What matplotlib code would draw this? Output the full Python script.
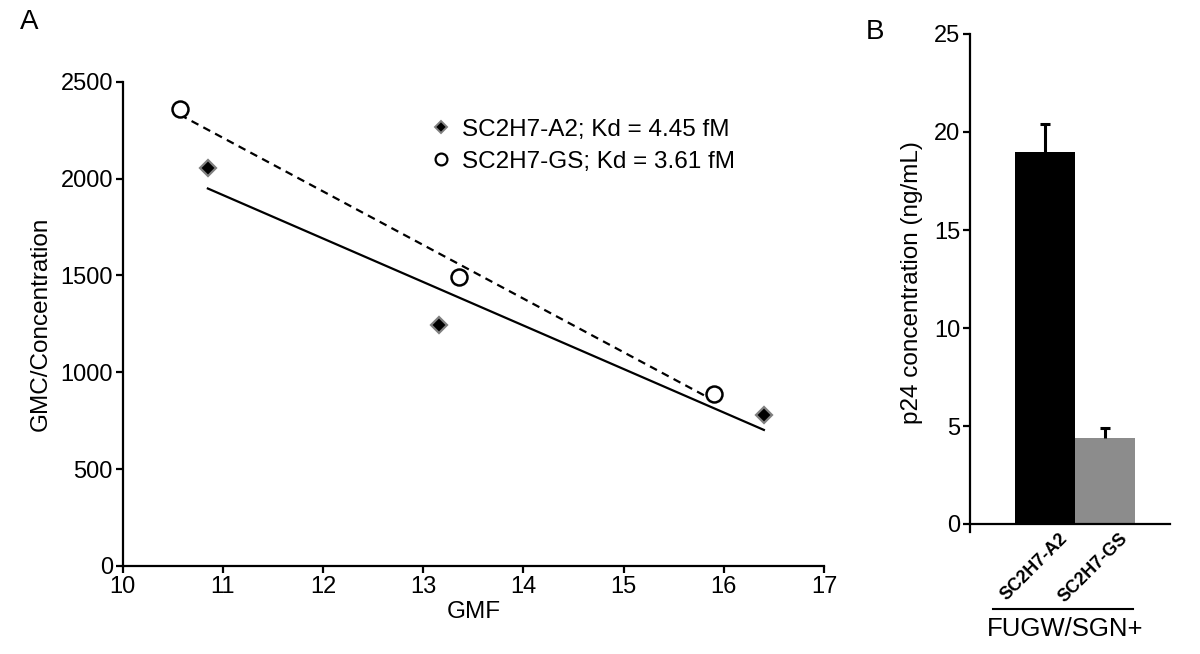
import numpy as np
import matplotlib
matplotlib.use("Agg")
import matplotlib.pyplot as plt
from matplotlib.lines import Line2D
from matplotlib.transforms import ScaledTranslation

plt.rcParams['font.family'] = ['Liberation Sans', 'DejaVu Sans']

# ---- Panel A data ----
a2_gmf = [10.85, 13.16, 16.40]
a2_ratio = [2056, 1246, 779]
gs_gmf = [10.57, 13.36, 15.90]
gs_ratio = [2361, 1491, 889]
a2_label = "SC2H7-A2; Kd = 4.45 fM"
gs_label = "SC2H7-GS; Kd = 3.61 fM"
xticks_a = [10, 11, 12, 13, 14, 15, 16, 17]
yticks_a = [0, 500, 1000, 1500, 2000, 2500]

# ---- Panel B data ----
bar_names = ["SC2H7-A2", "SC2H7-GS"]
bar_values = [19.0, 4.4]
bar_err_up = [1.4, 0.48]
bar_colors = ["#000000", "#8c8c8c"]
yticks_b = [0, 5, 10, 15, 20, 25]
group_label = "FUGW/SGN+"

W, H = 1200, 654
fig = plt.figure(figsize=(W / 100, H / 100), dpi=100)

FS = 17.5
TS = 17

# ---------------- Panel A ----------------
axA = fig.add_axes([122.7 / W, 1 - 566 / H, (824 - 122.7) / W, (566 - 81.7) / H])
axA.set_xlim(10, 17)
axA.set_ylim(0, 2500)

for xs, ys, ls in [(a2_gmf, a2_ratio, '-'), (gs_gmf, gs_ratio, (0, (3.5, 2.5)))]:
    k, b = np.polyfit(xs, ys, 1)
    xx = np.array([min(xs), max(xs)])
    axA.plot(xx, k * xx + b, color='black', lw=1.6, linestyle=ls, zorder=2)

axA.plot(a2_gmf, a2_ratio, linestyle='none', marker='D', markersize=8,
         markerfacecolor='black', markeredgecolor='#808080', markeredgewidth=1.6, zorder=3)
axA.plot(gs_gmf, gs_ratio, linestyle='none', marker='o', markersize=11.5,
         markerfacecolor='white', markeredgecolor='black', markeredgewidth=1.8, zorder=3)

h1 = Line2D([], [], linestyle='none', marker='D', markersize=6.5, markerfacecolor='black',
            markeredgecolor='#808080', markeredgewidth=1.4)
h2 = Line2D([], [], linestyle='none', marker='o', markersize=8.5, markerfacecolor='white',
            markeredgecolor='black', markeredgewidth=1.6)
axA.legend([h1, h2], [a2_label, gs_label], loc='upper left', bbox_to_anchor=(0.44, 0.924),
           frameon=False, fontsize=FS, handlelength=0.8, handletextpad=0.45,
           labelspacing=0.42, borderpad=0, borderaxespad=0)

axA.set_xticks(xticks_a)
axA.set_yticks(yticks_a)
for s in ['top', 'right']:
    axA.spines[s].set_visible(False)
for s in ['left', 'bottom']:
    axA.spines[s].set_linewidth(1.6)
axA.tick_params(direction='out', length=5, width=1.6, labelsize=TS, pad=2)
axA.set_xlabel("GMF", fontsize=FS, labelpad=2)
axA.set_ylabel("GMC/Concentration", fontsize=FS, labelpad=6)

fig.text(20 / W, 1 - 22 / H, "A", fontsize=20, ha='left', va='center')

# ---------------- Panel B ----------------
y0_px = 524
px_per_unit = (524 - 34) / 25
bottom_px = y0_px + 0.4 * px_per_unit
axB = fig.add_axes([970 / W, 1 - bottom_px / H, 200 / W, (bottom_px - 34) / H])
axB.set_ylim(-0.4, 25)
axB.set_xlim(-1.25, 2.0833)
xpos = np.arange(len(bar_names))
vals = np.array(bar_values)
errs = np.array(bar_err_up)
axB.bar(xpos, vals, width=1.0, color=bar_colors, edgecolor='none', zorder=2)
axB.vlines(xpos, vals, vals + errs, color='black', lw=2.2, zorder=3)
axB.hlines(vals + errs, xpos - 0.09, xpos + 0.09, color='black', lw=2.2, zorder=3)

for s in ['top', 'right']:
    axB.spines[s].set_visible(False)
axB.spines['bottom'].set_position(('data', 0))
for s in ['left', 'bottom']:
    axB.spines[s].set_linewidth(1.6)
axB.set_yticks(yticks_b)
axB.tick_params(axis='y', direction='out', length=5, width=1.6, labelsize=TS, pad=2)
axB.set_xticks([])
axB.set_ylabel("p24 concentration (ng/mL)", fontsize=FS, labelpad=8)

for i, name in enumerate(bar_names):
    tr = axB.transData + ScaledTranslation(0.14, -0.06, fig.dpi_scale_trans)
    axB.text(xpos[i], 0, name, transform=tr, rotation=45, ha='right', va='top',
             rotation_mode='anchor', fontsize=13, fontweight='bold')

axB.add_line(Line2D([0.115, 0.815], [-0.155, -0.155], transform=axB.transAxes,
                    color='black', lw=1.5, clip_on=False))
axB.text(0.475, -0.195, group_label, transform=axB.transAxes, ha='center', va='center',
         fontsize=18.5)

fig.text(875 / W, 1 - 32 / H, "B", fontsize=20, ha='center', va='center')

fig.savefig("out.png", dpi=100)
